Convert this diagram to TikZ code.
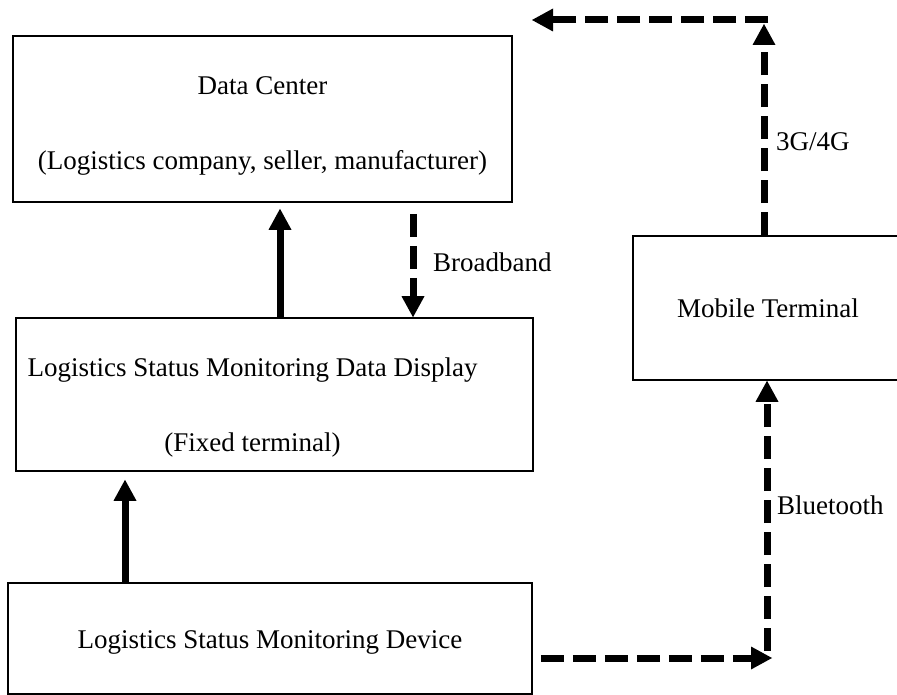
\documentclass[tikz,border=0pt]{standalone}
\usepackage{fontspec}
\setmainfont{Liberation Serif}
\usetikzlibrary{arrows.meta}
\newcommand\txtsize{\fontsize{27}{75}\selectfont}
\newcommand\lift[1]{\rule{0pt}{#1}}

\begin{document}
\begin{tikzpicture}[
    x=1pt,y=-1pt,
    blk/.style={draw,line width=1.6pt,inner sep=0pt,align=center,font=\txtsize},
    arr/.style={line width=7pt,-{Triangle[length=21pt,width=23pt,line width=0pt]}},
    darr/.style={arr,dash pattern=on 23pt off 9pt},
    lbl/.style={anchor=west,inner sep=0pt,font=\txtsize}
  ]
    \useasboundingbox (0,0) rectangle (897,695);
    \clip (0,0) rectangle (897,695);

    % boxes
    \node[blk,minimum width=499pt,minimum height=166pt] (dc) at (262.5,119)
      {\lift{32pt}Data Center\\(Logistics company, seller, manufacturer)};
    \node[blk,minimum width=517pt,minimum height=153pt] (disp) at (274.5,394.5)
      {\lift{44pt}Logistics Status Monitoring Data Display\hspace*{44pt}\\(Fixed terminal)\hspace*{44pt}};
    \node[blk,minimum width=524pt,minimum height=111pt] (dev) at (270,638.5)
      {\lift{26pt}Logistics Status Monitoring Device};
    \node[blk,minimum width=270pt,minimum height=144pt] (mob) at (768,308)
      {Mobile Terminal};

    % where the connectors run
    \coordinate (upx) at (280,0);
    \coordinate (bbx) at (413,0);
    \coordinate (devx) at (125,0);
    \coordinate (btcorner) at (772,658);
    \coordinate (btup) at (767,651);
    \coordinate (gcorner) at (764,24);
    \coordinate (gstart) at (768,20);
    \coordinate (gend) at (532,20);

    \draw[arr,shorten >=6pt] (upx |- disp.north) -- (upx |- dc.south);
    \draw[darr,shorten <=11pt] (bbx |- dc.south) -- (bbx |- disp.north);
    \draw[arr,shorten >=8pt] (devx |- dev.north) -- (devx |- disp.south);

    \draw[darr,shorten <=8pt] (dev.east |- btcorner) -- (btcorner);
    \draw[darr] (btup) -- (btup |- mob.south);
    \draw[darr] (gcorner |- mob.north) -- (gcorner);
    \draw[darr] (gstart) -- (gend);

    % labels
    \node[lbl] (bband) at (433,262) {Broadband};
    \node[lbl] (bt) at (777,505) {Bluetooth};
    \node[lbl] (g34) at (776,142) {3G/4G};
  \end{tikzpicture}
\end{document}
